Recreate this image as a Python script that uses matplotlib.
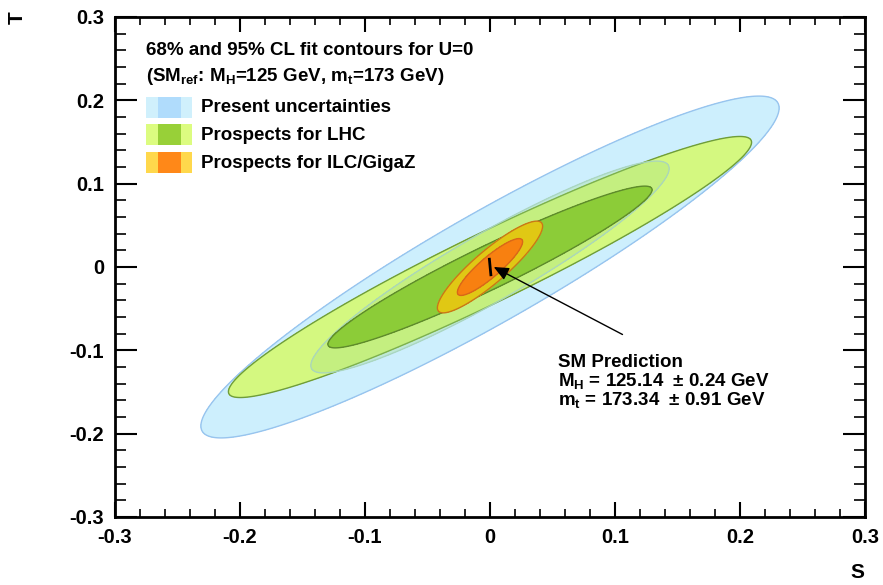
import numpy as np
import matplotlib
matplotlib.use("Agg")
import matplotlib.pyplot as plt
from matplotlib.ticker import MultipleLocator
from matplotlib.patches import Rectangle

# ---------------- data ----------------
# Gaussian fit contours in the (S, T) plane, U = 0
fit_names   = ["Present uncertainties", "Prospects for LHC", "Prospects for ILC/GigaZ"]
fit_S0      = [0.0, 0.0, 0.0]
fit_T0      = [0.0, 0.0, 0.0]
fit_sigS    = [0.0945, 0.0855, 0.0172]
fit_sigT    = [0.0838, 0.0640, 0.0225]
fit_rho     = [0.930, 0.955, 0.890]
cl_levels   = [2.30, 5.99]          # Delta chi2 for 68% and 95% CL (2 dof)

# SM prediction band (varying M_H, m_t)
sm_S = [-0.0006, 0.0008]
sm_T = [0.011, -0.011]
arrow_tip  = (0.003, 0.0)
arrow_tail = (0.106, -0.081)

x_ticks = [-0.3, -0.2, -0.1, 0, 0.1, 0.2, 0.3]
y_ticks = [-0.3, -0.2, -0.1, 0, 0.1, 0.2, 0.3]
x_ticklabels = ["-0.3", "-0.2", "-0.1", "0", "0.1", "0.2", "0.3"]
y_ticklabels = ["-0.3", "-0.2", "-0.1", "0", "0.1", "0.2", "0.3"]

# ---------------- style ----------------
plt.rcParams["font.family"] = ["Liberation Sans", "DejaVu Sans"]
plt.rcParams["font.weight"] = "bold"
plt.rcParams["mathtext.fontset"] = "custom"
plt.rcParams["mathtext.rm"] = "Liberation Sans:bold"
plt.rcParams["mathtext.it"] = "Liberation Sans:bold"
plt.rcParams["mathtext.bf"] = "Liberation Sans:bold"

fill95 = ["#cdeffd", "#d4f880", "#e0c814"]
fill68 = ["#9fdd80", "#8ccc38", "#f88010"]
edge95 = ["#98c4ee", "#6e9c3c", "#c87818"]
edge68 = ["#a8d4c0", "#5e8a2c", "#d86818"]
leg_out = ["#d0f0fc", "#dcfc80", "#ffd84c"]
leg_in  = ["#b0dcfc", "#98d038", "#ff8818"]

fig = plt.figure(figsize=(8.83, 5.85), dpi=100)
ax = fig.add_axes([115/883, 68/585, 750/883, 500/585])
ax.set_xlim(-0.3, 0.3)
ax.set_ylim(-0.3, 0.3)

S = np.linspace(-0.3, 0.3, 901)
T = np.linspace(-0.3, 0.3, 901)
SS, TT = np.meshgrid(S, T)

def chi2(i):
    dS = (SS - fit_S0[i]) / fit_sigS[i]
    dT = (TT - fit_T0[i]) / fit_sigT[i]
    r = fit_rho[i]
    return (dS**2 - 2*r*dS*dT + dT**2) / (1 - r**2)

# present (blue) 95%
c2 = chi2(0)
ax.contourf(SS, TT, c2, levels=[0, cl_levels[1]], colors=[fill95[0]], zorder=1)
ax.contour(SS, TT, c2, levels=[cl_levels[1]], colors=[edge95[0]], linewidths=1.0, zorder=1.1)
# LHC 95%
c2 = chi2(1)
ax.contourf(SS, TT, c2, levels=[0, cl_levels[1]], colors=[fill95[1]], zorder=2)
ax.contour(SS, TT, c2, levels=[cl_levels[1]], colors=[edge95[1]], linewidths=1.0, zorder=2.1)
# present 68% (semi transparent, on top of LHC 95%)
c2 = chi2(0)
ax.contourf(SS, TT, c2, levels=[0, cl_levels[0]], colors=[fill68[0]], alpha=0.3, zorder=3)
ax.contour(SS, TT, c2, levels=[cl_levels[0]], colors=[edge68[0]], linewidths=1.0, alpha=0.9, zorder=3.1)
# LHC 68%
c2 = chi2(1)
ax.contourf(SS, TT, c2, levels=[0, cl_levels[0]], colors=[fill68[1]], zorder=4)
ax.contour(SS, TT, c2, levels=[cl_levels[0]], colors=[edge68[1]], linewidths=1.0, zorder=4.1)
# ILC 95% and 68%
c2 = chi2(2)
ax.contourf(SS, TT, c2, levels=[0, cl_levels[1]], colors=[fill95[2]], zorder=5)
ax.contour(SS, TT, c2, levels=[cl_levels[1]], colors=[edge95[2]], linewidths=1.0, zorder=5.1)
ax.contourf(SS, TT, c2, levels=[0, cl_levels[0]], colors=[fill68[2]], zorder=6)
ax.contour(SS, TT, c2, levels=[cl_levels[0]], colors=[edge68[2]], linewidths=1.0, zorder=6.1)

# SM prediction
ax.plot(sm_S, sm_T, color="black", lw=2, zorder=20, solid_capstyle="butt")
ax.annotate("", xy=arrow_tip, xytext=arrow_tail,
            arrowprops=dict(arrowstyle="-|>,head_length=0.45,head_width=0.2",
                            color="black", lw=1.0, mutation_scale=20,
                            shrinkA=0, shrinkB=0), zorder=21)
fs = 13.5
ax.text(0.0544, -0.1195, "SM Prediction", fontsize=fs, fontweight="bold", va="baseline", zorder=22)
ax.text(0.0544, -0.1425, "M$_{H}$ = 125.14  \u00b1 0.24 GeV", fontsize=fs, fontweight="bold", va="baseline", zorder=22)
ax.text(0.0544, -0.1650, "m$_{t}$ = 173.34  \u00b1 0.91 GeV", fontsize=fs, fontweight="bold", va="baseline", zorder=22)

# legend / header
ax.text(0.0413, 0.924, "68% and 95% CL fit contours for U=0", transform=ax.transAxes,
        fontsize=fs, fontweight="bold", va="baseline")
ax.text(0.0413, 0.872, "(SM$_{ref}$: M$_{H}$=125 GeV, m$_{t}$=173 GeV)", transform=ax.transAxes,
        fontsize=fs, fontweight="bold", va="baseline")
box_top = [0.840, 0.786, 0.730]
box_h = 0.041
text_y = [0.810, 0.754, 0.698]
for i in range(3):
    ax.add_patch(Rectangle((0.0413, box_top[i] - box_h), 0.1027 - 0.0413, box_h,
                           transform=ax.transAxes, facecolor=leg_out[i], edgecolor="none", zorder=30))
    ax.add_patch(Rectangle((0.0573, box_top[i] - box_h), 0.088 - 0.0573, box_h,
                           transform=ax.transAxes, facecolor=leg_in[i], edgecolor="none", zorder=31))
    ax.text(0.1147, text_y[i], fit_names[i], transform=ax.transAxes,
            fontsize=fs, fontweight="bold", va="baseline", zorder=32)

# axes styling
for sp in ax.spines.values():
    sp.set_linewidth(2)
    sp.set_zorder(40)
ax.set_xticks(x_ticks)
ax.set_xticklabels(x_ticklabels)
ax.set_yticks(y_ticks)
ax.set_yticklabels(y_ticklabels)
ax.xaxis.set_minor_locator(MultipleLocator(0.02))
ax.yaxis.set_minor_locator(MultipleLocator(0.02))
ax.tick_params(axis="x", which="major", direction="in", length=11, width=1.5,
               top=True, bottom=True, labelsize=14.5, pad=8)
ax.tick_params(axis="x", which="minor", direction="in", length=5.5, width=1.2, top=True, bottom=True)
ax.tick_params(axis="y", which="major", direction="in", length=16, width=1.5,
               left=True, right=True, labelsize=14.5, pad=8)
ax.tick_params(axis="y", which="minor", direction="in", length=8, width=1.2, left=True, right=True)
for lab in ax.get_xticklabels() + ax.get_yticklabels():
    lab.set_fontweight("bold")

fig.text(857/883, 1 - 572/585, "S", fontsize=15, fontweight="bold", ha="center", va="center")
fig.text(17/883, 1 - 18/585, "T", fontsize=15, fontweight="bold", ha="center", va="center", rotation=90)

fig.savefig("out.png", dpi=100)
